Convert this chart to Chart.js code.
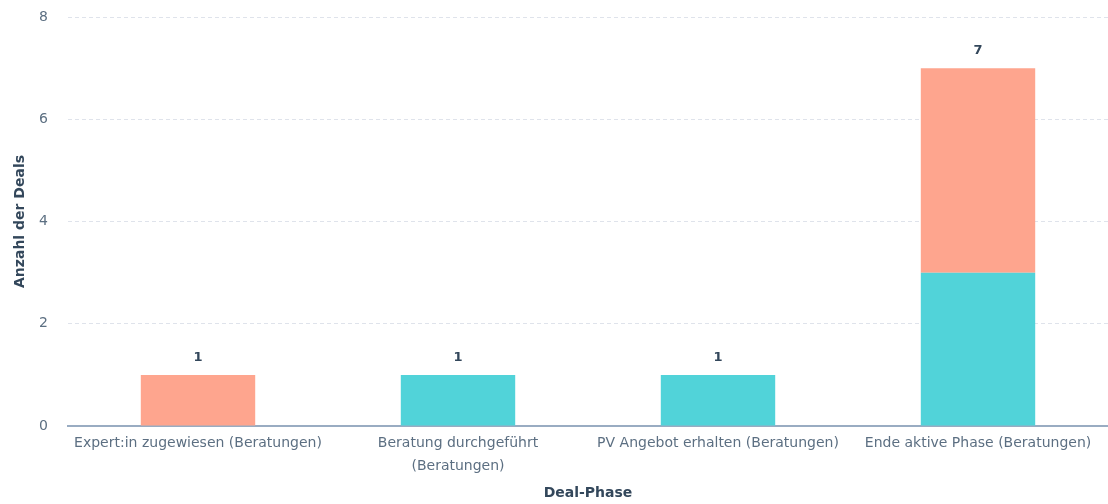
<!DOCTYPE html>
<html>
<head>
<meta charset="utf-8">
<script src="https://cdn.jsdelivr.net/npm/chart.js@4"></script>
<style>
  html, body { margin: 0; padding: 0; background: #fff; }
  #wrap { width: 1108px; height: 504px; }
</style>
</head>
<body>
<div id="wrap"><canvas id="dealChart"></canvas></div>
<script>
// Deal phases and counts per pipeline
const phases = [
  "Expert:in zugewiesen (Beratungen)",
  ["Beratung durchgeführt", "(Beratungen)"],
  "PV Angebot erhalten (Beratungen)",
  "Ende aktive Phase (Beratungen)",
];
const tealCounts = [0, 1, 1, 3];
const salmonCounts = [1, 0, 0, 4];
const yTicks = [0, 2, 4, 6, 8];

const FONT = "'DejaVu Sans', sans-serif";

// writes the stack total above each bar
const totalsPlugin = {
  id: "totals",
  afterDatasetsDraw(chart) {
    const ctx = chart.ctx;
    const y = chart.scales.y;
    ctx.save();
    ctx.font = "bold 13px " + FONT;
    ctx.fillStyle = "#33475b";
    ctx.textAlign = "center";
    ctx.textBaseline = "bottom";
    phases.forEach((p, i) => {
      const total = tealCounts[i] + salmonCounts[i];
      const x = chart.scales.x.getPixelForValue(i);
      ctx.fillText(String(total), x, y.getPixelForValue(total) - 11);
    });
    ctx.restore();
  },
};

const chart = new Chart(document.getElementById("dealChart").getContext("2d"), {
  type: "bar",
  data: {
    labels: phases,
    datasets: [
      {
        label: "Teal",
        data: tealCounts,
        backgroundColor: "#51d3d9",
        categoryPercentage: 0.8,
        barPercentage: 0.55,
      },
      {
        label: "Salmon",
        data: salmonCounts,
        backgroundColor: "#fea58e",
        categoryPercentage: 0.8,
        barPercentage: 0.55,
      },
    ],
  },
  options: {
    responsive: true,
    maintainAspectRatio: false,
    animation: false,
    layout: { padding: { top: 0, right: 0, left: 8, bottom: 0 } },
    plugins: {
      legend: { display: false },
      tooltip: { enabled: false },
    },
    scales: {
      x: {
        stacked: true,
        grid: { display: false },
        border: { display: true, color: "#99acc2", width: 2 },
        ticks: {
          color: "#5c6f82",
          font: { family: FONT, size: 14, lineHeight: 1.65 },
          maxRotation: 0,
          autoSkip: false,
          padding: -2,
        },
        title: {
          display: true,
          text: "Deal-Phase",
          color: "#33475b",
          font: { family: FONT, size: 14, weight: "bold" },
          padding: { top: 9, bottom: 2 },
        },
      },
      y: {
        stacked: true,
        min: 0,
        max: 8,
        afterFit(scale) {
          scale.width = 60;
          // keep the top tick close to the canvas edge
          scale.paddingTop = 17;
          scale.paddingBottom = 8;
        },
        afterBuildTicks(scale) { scale.ticks = yTicks.map((v) => ({ value: v })); },
        grid: { color: "#dfe3eb", drawTicks: false },
        border: { display: false, dash: [4, 3] },
        ticks: {
          color: "#5c6f82",
          font: { family: FONT, size: 14 },
          padding: 20,
        },
        title: {
          display: true,
          text: "Anzahl der Deals",
          color: "#33475b",
          font: { family: FONT, size: 14, weight: "bold" },
          padding: { bottom: 4 },
        },
      },
    },
  },
  plugins: [totalsPlugin],
});
</script>
</body>
</html>
